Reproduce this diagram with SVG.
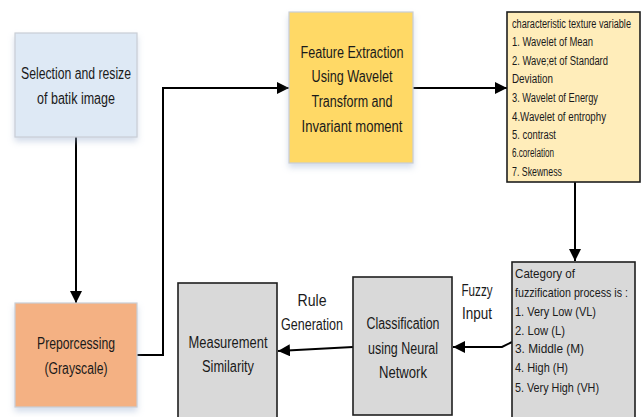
<svg xmlns="http://www.w3.org/2000/svg" width="643" height="417" viewBox="0 0 643 417">
  <defs>
    <filter id="soft" x="-10%" y="-10%" width="130%" height="130%">
      <feDropShadow dx="0" dy="4" stdDeviation="3" flood-color="#9fb4d0" flood-opacity="0.45"/>
    </filter>
    <marker id="head" viewBox="0 0 10 10" refX="10" refY="5" markerWidth="12" markerHeight="12" markerUnits="userSpaceOnUse" orient="auto">
      <path d="M0,0 L10,5 L0,10 Z" fill="#000"/>
    </marker>
  </defs>
  <style>
    text { font-family: "Liberation Sans", Arial, sans-serif; fill: #1a1a1a; }
    .lbl { font-size: 16px; text-anchor: middle; }
    .sm { font-size: 12.5px; }
    .md { font-size: 13.5px; }
    .light { stroke: #c9ced6; stroke-width: 1.2; filter: url(#soft); }
    .dark { stroke: #1e1e1e; stroke-width: 1.6; }
    .conn { fill: none; stroke: #000; stroke-width: 2; marker-end: url(#head); }
  </style>

  <g id="connectors">
    <path class="conn" d="M76,137 V303"/>
    <path class="conn" d="M137,355 H163 V88 H289"/>
    <path class="conn" d="M413,88 H507"/>
    <path class="conn" d="M575,182 V261"/>
    <path class="conn" d="M512,342 L502,347 H453"/>
    <path class="conn" d="M353,347 L278,351"/>
  </g>

  <g id="selection">
    <rect class="light" x="15" y="33" width="122" height="104" fill="#dee9f5"/>
    <text class="lbl" x="76" y="79" textLength="110" lengthAdjust="spacingAndGlyphs">Selection and resize</text>
    <text class="lbl" x="76" y="104" textLength="78" lengthAdjust="spacingAndGlyphs">of batik image</text>
  </g>

  <g id="preprocessing">
    <rect class="light" x="15" y="303" width="122" height="104" fill="#f4b183"/>
    <text class="lbl" x="76" y="349" textLength="78" lengthAdjust="spacingAndGlyphs">Preporcessing</text>
    <text class="lbl" x="76" y="374" textLength="63" lengthAdjust="spacingAndGlyphs">(Grayscale)</text>
  </g>

  <g id="feature-extraction">
    <rect class="light" x="289" y="12" width="124" height="151" fill="#ffd966"/>
    <text class="lbl" x="352" y="58" textLength="103" lengthAdjust="spacingAndGlyphs">Feature Extraction</text>
    <text class="lbl" x="352" y="82" textLength="81" lengthAdjust="spacingAndGlyphs">Using Wavelet</text>
    <text class="lbl" x="352" y="107" textLength="81" lengthAdjust="spacingAndGlyphs">Transform and</text>
    <text class="lbl" x="352" y="132" textLength="101" lengthAdjust="spacingAndGlyphs">Invariant moment</text>
  </g>

  <g id="texture-variables">
    <rect class="dark" x="507" y="12" width="133" height="170" fill="#ffedba"/>
    <text class="sm" x="512" y="28" textLength="119" lengthAdjust="spacingAndGlyphs">characteristic texture variable</text>
    <text class="sm" x="512" y="46" textLength="81" lengthAdjust="spacingAndGlyphs">1. Wavelet of Mean</text>
    <text class="sm" x="512" y="65" textLength="96" lengthAdjust="spacingAndGlyphs">2. Wave;et of Standard</text>
    <text class="sm" x="512" y="83" textLength="41" lengthAdjust="spacingAndGlyphs">Deviation</text>
    <text class="sm" x="512" y="102" textLength="86" lengthAdjust="spacingAndGlyphs">3. Wavelet of Energy</text>
    <text class="sm" x="512" y="121" textLength="94" lengthAdjust="spacingAndGlyphs">4.Wavelet of entrophy</text>
    <text class="sm" x="512" y="139" textLength="44" lengthAdjust="spacingAndGlyphs">5. contrast</text>
    <text class="sm" x="512" y="157" textLength="42" lengthAdjust="spacingAndGlyphs">6.corelation</text>
    <text class="sm" x="512" y="176" textLength="50" lengthAdjust="spacingAndGlyphs">7. Skewness</text>
  </g>

  <g id="fuzzification">
    <rect class="dark" x="512" y="262" width="123" height="162" fill="#d9d9d9"/>
    <text class="md" x="515" y="278" textLength="60" lengthAdjust="spacingAndGlyphs">Category of</text>
    <text class="md" x="515" y="297" textLength="113" lengthAdjust="spacingAndGlyphs">fuzzification process is :</text>
    <text class="md" x="515" y="316" textLength="81" lengthAdjust="spacingAndGlyphs">1. Very Low (VL)</text>
    <text class="md" x="515" y="335" textLength="50" lengthAdjust="spacingAndGlyphs">2. Low (L)</text>
    <text class="md" x="515" y="353" textLength="69" lengthAdjust="spacingAndGlyphs">3. Middle  (M)</text>
    <text class="md" x="515" y="372" textLength="53" lengthAdjust="spacingAndGlyphs">4. High (H)</text>
    <text class="md" x="515" y="392" textLength="84" lengthAdjust="spacingAndGlyphs">5. Very High (VH)</text>
  </g>

  <g id="classification">
    <rect class="dark" x="353" y="277" width="99" height="138" fill="#d9d9d9"/>
    <text class="lbl" x="403" y="329" textLength="73" lengthAdjust="spacingAndGlyphs">Classification</text>
    <text class="lbl" x="403" y="354" textLength="70" lengthAdjust="spacingAndGlyphs">using Neural</text>
    <text class="lbl" x="403" y="378" textLength="48" lengthAdjust="spacingAndGlyphs">Network</text>
  </g>

  <g id="measurement">
    <rect class="dark" x="178" y="283" width="99" height="145" fill="#d9d9d9"/>
    <text class="lbl" x="228" y="348" textLength="79" lengthAdjust="spacingAndGlyphs">Measurement</text>
    <text class="lbl" x="228" y="372" textLength="52" lengthAdjust="spacingAndGlyphs">Similarity</text>
  </g>

  <g id="edge-labels">
    <text class="lbl" x="312" y="306" textLength="29" lengthAdjust="spacingAndGlyphs">Rule</text>
    <text class="lbl" x="312" y="330" textLength="62" lengthAdjust="spacingAndGlyphs">Generation</text>
    <text class="lbl" x="477" y="296" textLength="31" lengthAdjust="spacingAndGlyphs">Fuzzy</text>
    <text class="lbl" x="477" y="319" textLength="30" lengthAdjust="spacingAndGlyphs">Input</text>
  </g>
</svg>
